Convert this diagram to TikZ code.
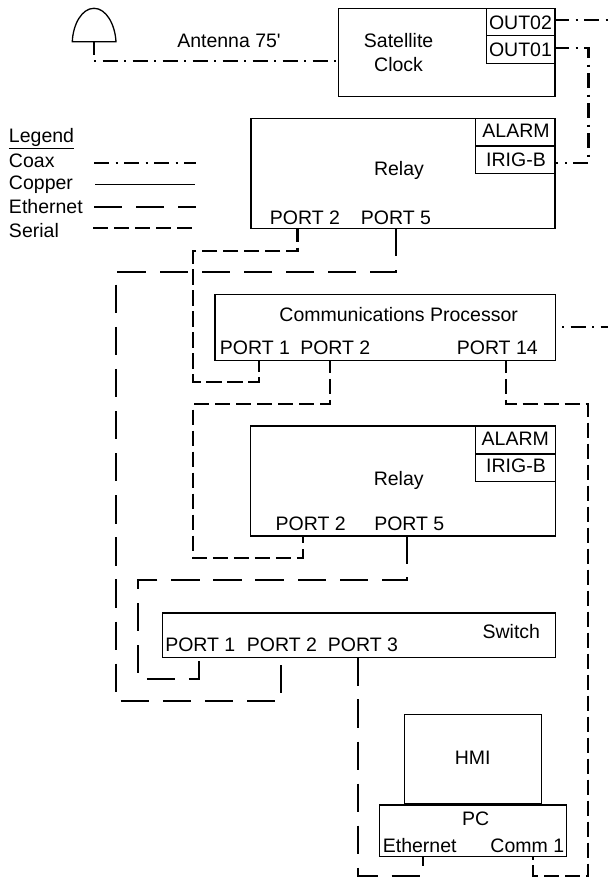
\documentclass[tikz,border=0pt]{standalone}
\usepackage{fontspec}
\setmainfont{Liberation Sans}
\newfontfamily\plainfont{Liberation Sans}
\usetikzlibrary{fit}
\tikzset{
  boxnode/.style={draw=black,line width=1.3pt,inner sep=0pt,outer sep=0pt,rectangle},
  txt/.style={inner sep=0pt,outer sep=0pt,font=\fontsize{19.5}{22}\selectfont,text=black},
  ltxt/.style={txt,anchor=west},
  wire/.style={line width=2.3pt,draw=black,line join=miter},
  coax/.style={wire,dash pattern=on 15pt off 6.5pt on 2pt off 6.5pt},
  ether/.style={wire,dash pattern=on 28.3pt off 13.8pt},
  serial/.style={wire,dash pattern=on 15.3pt off 5.7pt},
}
\begin{document}
\begin{tikzpicture}[x=1pt,y=-1pt]
\useasboundingbox (0,0) rectangle (608,879);
% boxes
\node[boxnode,fit={(338.5,8.7)(555,96.7)}] (clock) {};
\node[boxnode,fit={(486.6,8.7)(555,35.7)}] (out2) {};
\node[boxnode,fit={(486.6,35.7)(555,63.7)}] (out1) {};
\node[boxnode,fit={(251,118.7)(555,228.7)}] (relayA) {};
\node[boxnode,fit={(475.8,118.7)(555,146)}] (alarmA) {};
\node[boxnode,fit={(475.8,146)(555,173.7)}] (irigA) {};
\node[boxnode,fit={(215,294.7)(555.3,360.5)}] (cp) {};
\node[boxnode,fit={(250.7,426)(555.3,536)}] (relayB) {};
\node[boxnode,fit={(475.7,426)(555.3,454)}] (alarmB) {};
\node[boxnode,fit={(475.7,454)(555.3,481.3)}] (irigB) {};
\node[boxnode,fit={(162.7,613)(555.3,657.3)}] (switch) {};
\node[boxnode,fit={(404.3,714.7)(541.7,804)}] (hmi) {};
\node[boxnode,fit={(379.3,805)(566.3,856.3)}] (pc) {};
% antenna
\draw[line width=1.3pt,line join=miter] (72.3,41.7) .. controls (73,24) and (82,8.3) .. (94,8.3) .. controls (106,8.3) and (115,24) .. (116,41.7) -- cycle;
\coordinate (antbase) at (94,41.7);
\coordinate (antcorner) at (94,61.3);
\coordinate (clockin) at (338.5,61.3);
% text
\node[txt] (tant) at (229,41.3) {\plainfont Antenna 75'};
\node[txt] (tsat) at (398.6,40.7) {Satellite};
\node[txt] (tclk) at (398.6,64.3) {Clock};
\node[txt] (tout2) at (520.5,22.3) {OUT02};
\node[txt] (tout1) at (520.5,49.3) {OUT01};
\node[txt] (talA) at (516,131) {ALARM};
\node[txt] (tirA) at (516,159.3) {IRIG-B};
\node[txt] (trelA) at (399,170.7) {Relay};
\node[txt] (tA2) at (305,217.3) {PORT 2};
\node[txt] (tA5) at (396,217.3) {PORT 5};
\node[txt] (tcp) at (398.7,315) {Communications Processor};
\node[txt] (tc1) at (255,348) {PORT 1};
\node[txt] (tc2) at (335.3,348) {PORT 2};
\node[txt] (tc14) at (497.3,348) {PORT 14};
\node[txt] (talB) at (515.3,439) {ALARM};
\node[txt] (tirB) at (516,466) {IRIG-B};
\node[txt] (trelB) at (398.7,480) {Relay};
\node[txt] (tB2) at (310.7,524) {PORT 2};
\node[txt] (tB5) at (409.3,524) {PORT 5};
\node[txt] (tsw) at (511.3,631.3) {Switch};
\node[txt] (ts1) at (200.3,645) {PORT 1};
\node[txt] (ts2) at (282,645) {PORT 2};
\node[txt] (ts3) at (363,645) {PORT 3};
\node[txt] (thmi) at (472.7,758) {HMI};
\node[txt] (tpc) at (475.7,818.3) {PC};
\node[txt] (teth) at (419.7,845.3) {Ethernet};
\node[txt] (tcom) at (527.3,845.3) {Comm 1};
% legend
\node[ltxt] (lleg) at (9,138.5) {\underline{Legend}};
\node[ltxt] (lcoax) at (9,160.3) {Coax};
\node[ltxt] (lcop) at (9,184.8) {Copper};
\node[ltxt] (leth) at (9,207) {Ethernet};
\node[ltxt] (lser) at (9,231) {Serial};
\coordinate (c1a) at (94,162.7); \coordinate (c1b) at (196,162.7);
\coordinate (c2a) at (95,184.3); \coordinate (c2b) at (195,184.3);
\coordinate (c3a) at (94,206.7); \coordinate (c3b) at (196,206.7);
\coordinate (c4a) at (93,228.3); \coordinate (c4b) at (192,228.3);
\draw[coax] (c1a) -- (c1b);
\draw[line width=1.2pt] (c2a) -- (c2b);
\draw[ether] (c3a) -- (c3b);
\draw[serial] (c4a) -- (c4b);
% coax
\draw[coax,dash phase=1.7pt] (antbase) -- (antcorner) -- (clockin);
\draw[coax,dash phase=1pt] (out2.east |- 0,20) -- (608,20);
\draw[coax,dash phase=1pt] (out1.east |- 0,47.7) -- (588.6,47.7) -- (588.6,162.7) -- (irigA.east |- 0,162.7);
\coordinate (cpo) at (562,327);
\draw[coax,dash phase=21.5pt] (cpo) -- (608,327);
% connector end points
\coordinate (pA2) at (297.4,228.7);
\coordinate (pA5) at (396,228.7);
\coordinate (pC1) at (259,360.5);
\coordinate (pC2) at (330.3,360.5);
\coordinate (pC14) at (506,360.5);
\coordinate (pB2) at (303,536);
\coordinate (pB5) at (407.3,536);
\coordinate (pS1) at (199,657.3);
\coordinate (pS2) at (281,657.3);
\coordinate (pS3) at (357.7,657.3);
\coordinate (pEth) at (423.3,856.3);
\coordinate (pCom) at (533.3,856.3);
% serial
\draw[serial,dash phase=2pt] (pA2) -- (pA2 |- 0,251.3) -- (193,251.3) -- (193,382) -- (pC1 |- 0,382) -- (pC1);
\draw[serial,dash phase=2.7pt] (pC2) -- (pC2 |- 0,404.3) -- (193,404.3) -- (193,557.7) -- (pB2 |- 0,557.7) -- (pB2);
\draw[serial,dash phase=2.7pt] (pC14) -- (pC14 |- 0,404.3) -- (588.3,404.3) -- (588.3,876) -- (pCom |- 0,876) -- (pCom);
% ethernet
\draw[ether,dash phase=0.8pt] (pA5) -- (pA5 |- 0,272.3) -- (116,272.3) -- (116,701) -- (pS2 |- 0,701) -- (pS2);
\draw[ether,dash phase=0.8pt] (pB5) -- (pB5 |- 0,580) -- (138.3,580) -- (138.3,678.7) -- (pS1 |- 0,678.7) -- (pS1);
\draw[ether] (pS3) -- (pS3 |- 0,876) -- (pEth |- 0,876) -- (pEth);
\end{tikzpicture}
\end{document}
